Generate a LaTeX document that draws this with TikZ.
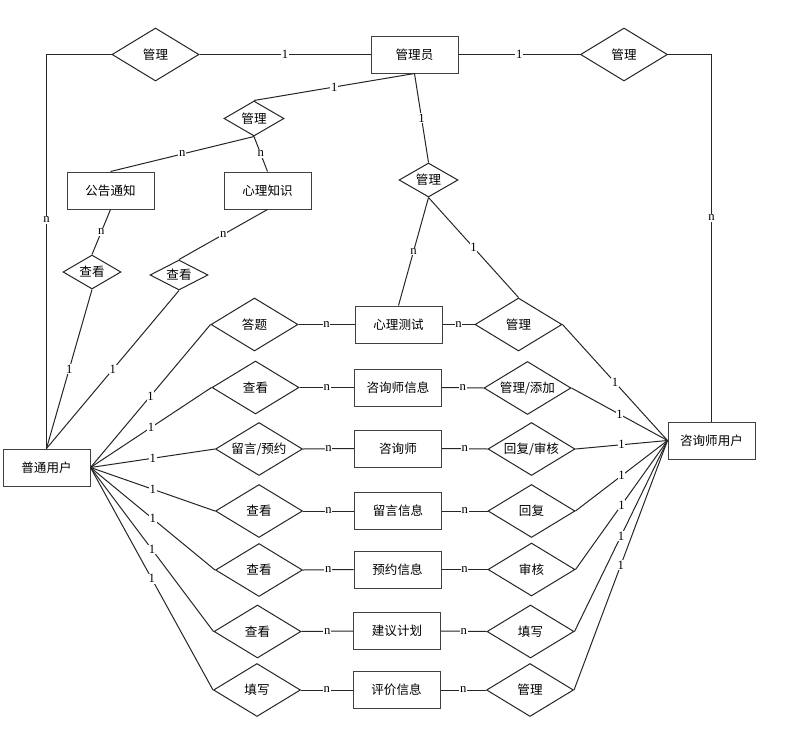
\documentclass[tikz,border=0pt]{standalone}
\usepackage{fontspec}
\setmainfont{Liberation Serif}
\newfontfamily\cjk{Noto Sans CJK SC}
\usetikzlibrary{shapes.geometric}
\newcommand{\zb}[1]{\makebox[0pt]{#1}}
\tikzset{
  conn/.style={draw=black!85, line width=0.75pt},
  ent/.style={draw=black!75, line width=0.75pt, rectangle, minimum width={87*0.75pt}, minimum height={37*0.75pt}, inner sep=0pt, font=\cjk\fontsize{9.4pt}{11pt}\selectfont},
  rel/.style={draw=black!85, line width=0.75pt, diamond, inner sep=0pt, minimum width={87*0.75pt}, minimum height={53*0.75pt}, font=\cjk\fontsize{9.4pt}{11pt}\selectfont},
  srel/.style={rel, minimum width={58*0.75pt}, minimum height={34*0.75pt}},
  lab/.style={fill=white, inner sep=0.6pt, font=\fontsize{9.5pt}{10pt}\selectfont},
}
\begin{document}
\begin{tikzpicture}[x=0.75pt,y=-0.75pt]
\useasboundingbox[fill=white] (0,0) rectangle (803,739);
% top
\node[ent] (admin) at (414.5,54.5) {管理员};
\node[rel] (tlm) at (155.5,54.5) {管理};
\node[rel] (trm) at (624,54.5) {管理};
\node[srel, minimum width={60*0.75pt}, minimum height={35*0.75pt}] (sm1) at (254,118.5) {\zb{管理}};
\node[ent] (notice) at (110.5,190.5) {公告通知};
\node[ent] (know) at (267.5,190.5) {心理知识};
\node[srel] (v1) at (92,272) {\zb{查看}};
\node[srel, minimum height={30*0.75pt}] (v2) at (179,275) {\zb{查看}};
\node[srel, minimum width={59*0.75pt}] (sm2) at (428.5,180) {\zb{管理}};
\node[ent] (user) at (46.5,467.5) {普通用户};
\node[ent] (couns) at (711.5,440.5) {咨询师用户};
% rows
\node[rel] (l1) at (254.5,324.5) {答题};
\node[rel] (l2) at (255.5,387.5) {查看};
\node[rel] (l3) at (259,449) {\zb{留言/预约}};
\node[rel] (l4) at (259,511) {查看};
\node[rel] (l5) at (259,570) {查看};
\node[rel] (l6) at (257.5,631.5) {查看};
\node[rel] (l7) at (257,690) {填写};
\node[ent] (b1) at (398.5,324.5) {心理测试};
\node[ent] (b2) at (398,387.5) {咨询师信息};
\node[ent] (b3) at (398,448.5) {咨询师};
\node[ent] (b4) at (398,511) {留言信息};
\node[ent] (b5) at (397.5,569.5) {预约信息};
\node[ent] (b6) at (397,631) {建议计划};
\node[ent] (b7) at (396.5,690) {评价信息};
\node[rel] (r1) at (518.5,324.5) {管理};
\node[rel] (r2) at (527.5,388) {\zb{管理/添加}};
\node[rel] (r3) at (531.5,449) {\zb{回复/审核}};
\node[rel] (r4) at (531.5,511) {回复};
\node[rel] (r5) at (531.5,569.5) {审核};
\node[rel] (r6) at (530.5,631.5) {填写};
\node[rel] (r7) at (530,690) {管理};
% corner coordinates
\coordinate (cl) at (user.north |- tlm.west);
\coordinate (cr) at (couns.north |- trm.east);
% top connectors
\draw[conn] (admin.west) -- node[lab]{1} (tlm.east);
\draw[conn] (admin.east) -- node[lab]{1} (trm.west);
\draw[conn] (tlm.west) -- (cl) -- node[lab, pos=0.42]{n} (user.north);
\draw[conn] (trm.east) -- (cr) -- node[lab, pos=0.445]{n} (couns.north);
\draw[conn] (admin.south) -- node[lab]{1} (sm1.north);
\draw[conn] (admin.south) -- node[lab]{1} (sm2.north);
\draw[conn] (sm1.south) -- node[lab]{n} (notice.north);
\draw[conn] (sm1.south) -- node[lab]{n} (know.north);
\draw[conn] (notice.south) -- node[lab]{n} (v1.north);
\draw[conn] (know.south) -- node[lab]{n} (v2.north);
\draw[conn] (v1.south) -- node[lab]{1} (user.north);
\draw[conn] (v2.south) -- node[lab]{1} (user.north);
\draw[conn] (sm2.south) -- node[lab]{n} (b1.north);
\draw[conn] (sm2.south) -- node[lab]{1} (r1.north);
% rows
\foreach \i in {1,...,7}{
  \draw[conn] (user.east) -- node[lab]{1} (l\i.west);
  \draw[conn] (l\i.east) -- node[lab]{n} (b\i.west);
  \draw[conn] (b\i.east) -- node[lab]{n} (r\i.west);
  \draw[conn] (r\i.east) -- node[lab]{1} (couns.west);
}
\end{tikzpicture}
\end{document}
